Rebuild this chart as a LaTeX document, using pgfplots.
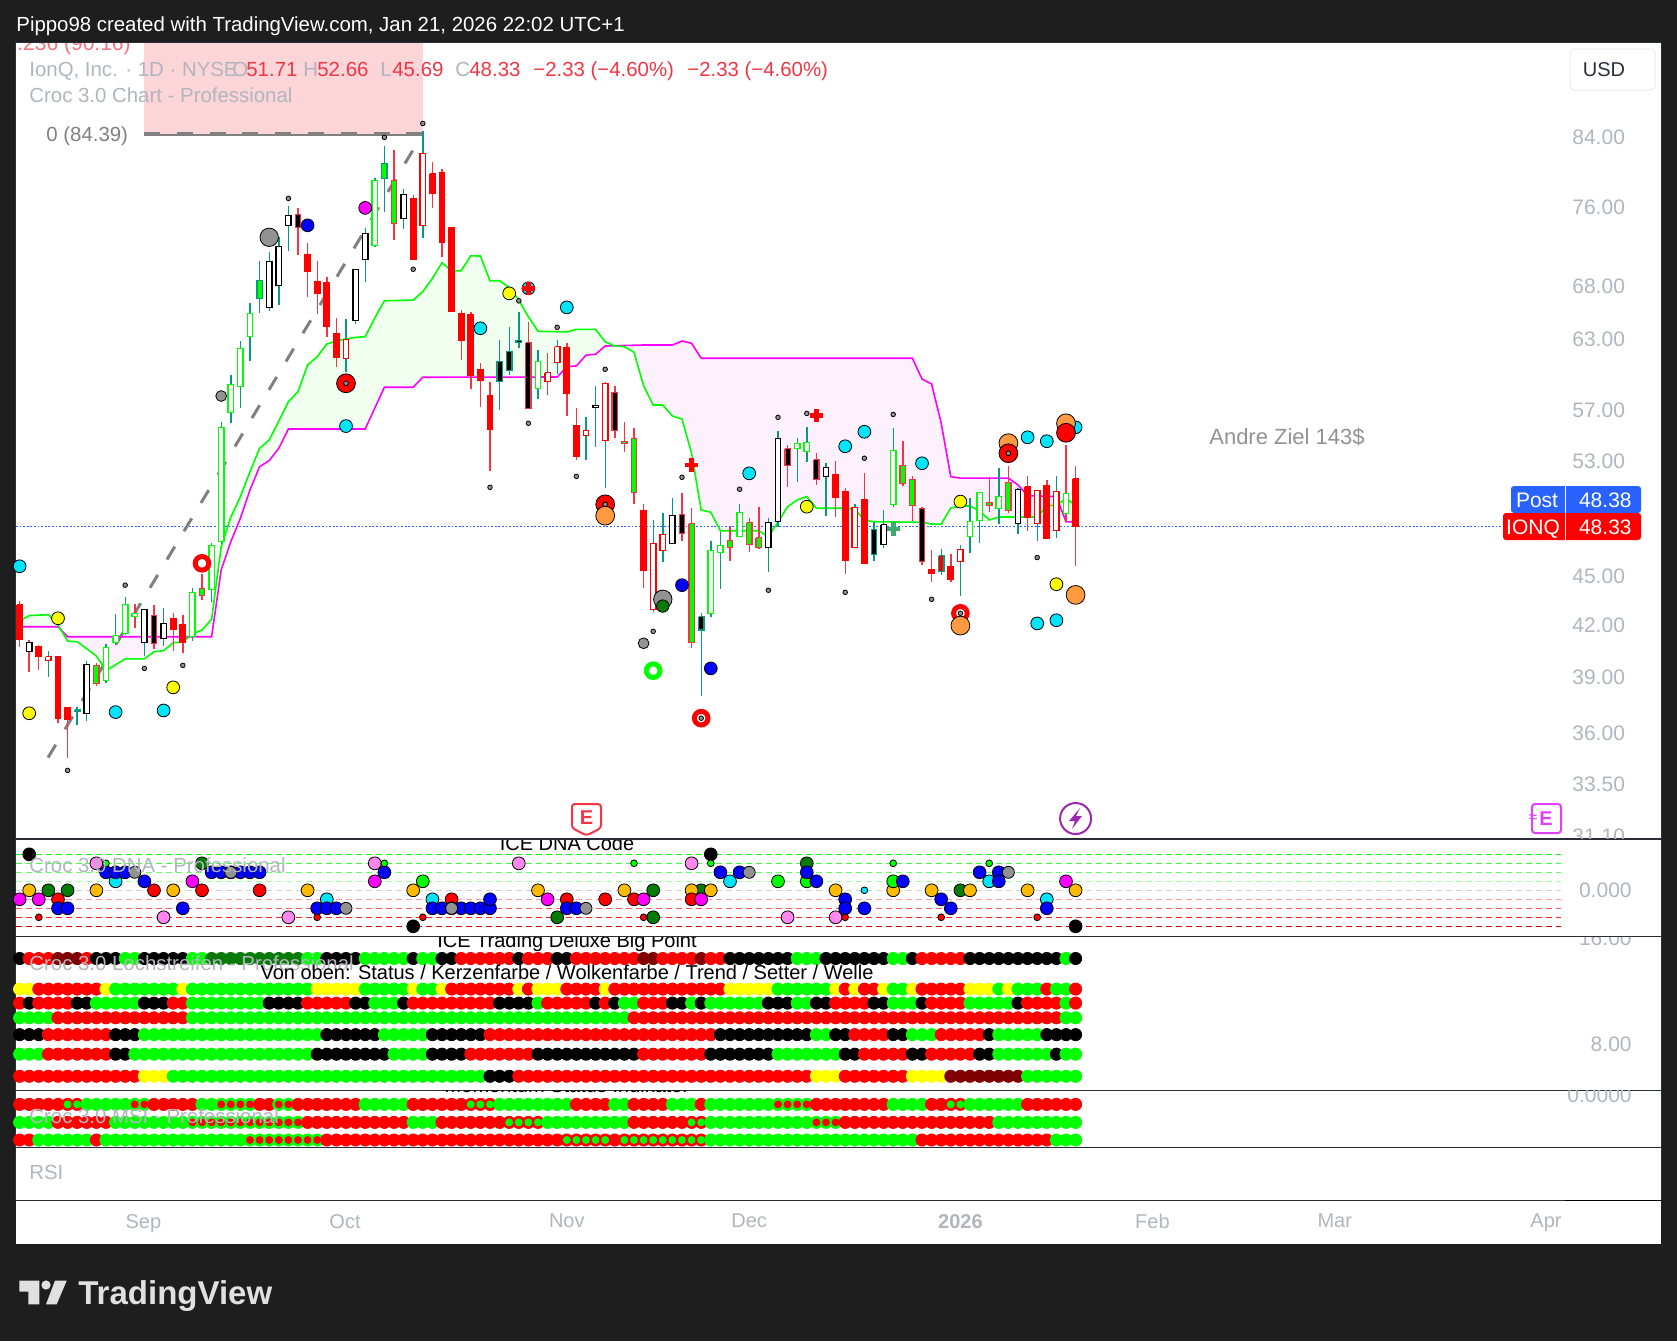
\documentclass[border=0pt]{standalone}
\usepackage{fontspec}
\setmainfont{Liberation Sans}
\usepackage{pgfplots}
\usepackage{pgfplotstable}
\pgfplotsset{compat=1.18}

\definecolor{tvbg}{HTML}{1E1E1E}
\definecolor{rd}{HTML}{FF0000}
\definecolor{lm}{HTML}{00FF00}
\definecolor{wd}{HTML}{F23645}
\definecolor{wu}{HTML}{089981}
\definecolor{mg}{HTML}{FF00FF}
\definecolor{cy}{HTML}{00E5FF}
\definecolor{yl}{HTML}{FFFF00}
\definecolor{org}{HTML}{FF9A40}
\definecolor{gld}{HTML}{FFBB00}
\definecolor{dgr}{HTML}{087A08}
\definecolor{mar}{HTML}{800000}
\definecolor{pnk}{HTML}{FF88EE}
\definecolor{gy}{HTML}{929292}
\definecolor{tick}{HTML}{B2B5BE}
\definecolor{line}{HTML}{2A2E39}
\definecolor{tvblue}{HTML}{2962FF}
\definecolor{cloudg}{HTML}{F0FFF0}
\definecolor{cloudm}{HTML}{FDF1FD}
\definecolor{band}{HTML}{FCD5D8}
\definecolor{fib}{HTML}{808080}
\definecolor{seag}{HTML}{3CAA6E}
\definecolor{purp}{HTML}{9C27B0}
\definecolor{mgl}{HTML}{E040FB}
\definecolor{logo}{HTML}{E0E0E0}

% candle bodies
\tikzset{
  cR/.style={fill=rd,draw=rd},
  cG/.style={fill=lm,draw=wd},
  cGt/.style={fill=lm,draw=wu},
  cH/.style={fill=white,draw=lm},
  cW/.style={fill=white,draw=black},
  cN/.style={fill=white,draw=rd},
  cB/.style={fill=black,draw=wd},
  cBt/.style={fill=black,draw=wu},
  cRt/.style={fill=rd,draw=wu},
}
% i, high, body top, body bottom, low, body style, wick colour
\newcommand{\candle}[7]{%
  \pgfmathsetmacro\cxl{#1-0.28}\pgfmathsetmacro\cxr{#1+0.28}%
  \addplot[#7,line width=0.7pt] coordinates {(#1,#2)(#1,#5)};
  \addplot[#6,line width=0.65pt,line join=miter] coordinates {(\cxl,#3)(\cxr,#3)(\cxr,#4)(\cxl,#4)(\cxl,#3)};
}
\newcommand{\lab}[5][base west]{\node[anchor=#1,inner sep=0pt,text=#2,font=\fontsize{#3}{#3}\selectfont] at (#4) {#5};}

\pgfplotsset{
  panel/.style={scale only axis,width=822.5pt,xmin=-0.375,xmax=170.98,anchor=north west,
    axis background/.style={fill=white},xtick=\empty,ytick=\empty,
    axis line style={draw=line,line width=0.5pt},major tick length=0pt,minor tick length=0pt},
  dots/.style={only marks,mark=*,mark options={draw=none,fill=#1}},
  strip/.style={scatter,only marks,scatter src=explicit symbolic,mark size=3.05pt,
    scatter/classes={R={mark=*,rd},G={mark=*,lm},K={mark=*,black},Y={mark=*,yl},
      D={mark=*,mar},N={mark=*,dgr},a={mark=*,rd},b={mark=*,lm}}},
  strip small/.style={scatter,only marks,scatter src=explicit symbolic,mark size=1.75pt,
    scatter/classes={R={mark=none},G={mark=none},K={mark=none},Y={mark=none},
      D={mark=none},N={mark=none},a={mark=*,lm},b={mark=*,rd}}},
}

% strip states per day: l0..l6 Lochstreifen rows, m0..m2 MSI rows
\pgfplotstableread{
i l0 l1 l2 l3 l4 l5 l6 m0 m1 m2
0 K Y R G K G R R G R
1 R Y K G K G R R G R
2 R R R G K G R R G G
3 R R R G R R R R G G
4 D R R R R R R R R G
5 D R R R R R R a R G
6 D R K R R R R a R G
7 R R K R R R R G R G
8 K R G R R R R G R R
9 K Y G R R R R G R G
10 K G G R K K R G G G
11 G G G R K K R G G G
12 G G G R K G R b G G
13 K G K R G G Y b G G
14 K G K R G G Y R G G
15 K G K R G G Y R G G
16 K G R R G G G R G G
17 K Y R R G G G R G G
18 G G G G G G G R b G
19 G G G G G G G G b G
20 N G G G G G G G b G
21 N G G G G G G b b G
22 N G G G G G G b b G
23 N G G G G G G b b G
24 N G G G G G G b b b
25 N G G G G G G R b b
26 N G K G G G G R b b
27 N G K G G G G b b b
28 N G K G G G G b b b
29 N G K G G G G R b b
30 G G R G G G G R R b
31 G Y R G G K G R R b
32 K Y R G K K G R R R
33 K Y R G K K G R R R
34 K Y R G K K G R R R
35 K Y K G K K G R R R
36 G G K G K K G G R R
37 G G G G K K G G R R
38 G G G G G K G G R R
39 G G G G G G G G R R
40 G G K G G G G G R R
41 K Y R G G G G R G R
42 G G R G G G G R G R
43 G G R G K K G R G R
44 K Y R G K K G R R R
45 K R R G K K G R R R
46 R R R G K K G R R R
47 R R R G K R G a R R
48 R R R G K R G a R R
49 R R R G R R K a R R
50 R R K G R R K G R R
51 R R K G R R K G a R
52 K Y K G R R R G a R
53 R R K G R R R G a R
54 R Y G G R K R G a R
55 R Y R G R K R G G R
56 K Y R G R K R G G R
57 K R R G R K R G G a
58 R R R G R K R R G a
59 R R R G R K R R G a
60 R R K G R K R R G a
61 R Y R G R K R R G a
62 R R K G R K R G G R
63 R R G G R K R G G a
64 R R G R R K R R R a
65 D R R R R R R R R a
66 D R R R R R R R R a
67 R R R R R R R R R a
68 R R K R R R R G R a
69 R R K R R R R G R a
70 R R G R R R R G a a
71 D R K R R R R R a a
72 R R G R R K R G G G
73 R R G R K K R G G G
74 K Y G R K K R G G G
75 K Y G R K K R G G G
76 K Y G R K K R G G G
77 K Y G R K K R G G G
78 K Y K R K K R G G G
79 K G K R K G R b G G
80 K G K R K G R b G G
81 G G G R K G R b G G
82 G G G R K G R b G G
83 G G K R G G Y R b G
84 K G K R G G Y R b G
85 K Y R R K G Y R b G
86 K R R R K K R R R G
87 K Y R R R K R R R G
88 K R R R R R R R R G
89 K R K R R R R R R G
90 K Y K R R R R R R G
91 G G G R K R R G R G
92 G G G R K R R G R G
93 K Y G R G K Y G R G
94 R R K R G K Y G R R
95 R R R R G R Y R R R
96 R R R R R R Y R R R
97 R R R R R R D a R R
98 R R R R R R D a R R
99 K Y G R R R D G R R
100 K Y G R R K D G R R
101 K Y G R K K D G R R
102 K G G R G G D G G R
103 K Y G R G G D G G R
104 K G K R G G D G G R
105 K G R R G G G R G R
106 K G R R G G G R G R
107 K R R R K G G R G R
108 K G R R K K G R G G
109 G G G G K G G R G G
110 K R R G K G G R G G
}\rows

\begin{document}
\begin{tikzpicture}[x=0.5pt,y=-0.5pt]
\fill[tvbg] (0,0) rectangle (1677,1341);
\fill[white] (16,43) rectangle (1661,1244);

% ---- price panel
\begin{axis}[panel,at={(8pt,-21.5pt)},height=398pt,
  ymode=log,ymin=31,ymax=96,yminorticks=false,
  ytick={84,76,68,63,57,53,45,42,39,36,33.5,31.1},
  yticklabels={84.00,76.00,68.00,63.00,57.00,53.00,45.00,42.00,39.00,36.00,33.50,31.10},
  yticklabel pos=right,
  yticklabel style={anchor=east,xshift=-14.5pt,text=tick,font=\fontsize{10.5}{10.5}\selectfont},
]
% fib band
\addplot[fill=band,draw=none] coordinates {(12.96,84.39)(42,84.39)(42,96)(12.96,96)};
% cloud areas
\addplot[fill=cloudg,draw=none] coordinates {(0,42.25)(1,42.57)(3,42.63)(4.2,41.78)(0,41.9)};
\addplot[fill=cloudm,draw=none] coordinates {(4.2,41.78)(5,41.31)(17.65,41.31)(17,41.00)(16,40.96)(15,40.50)(14,40.44)(13,40.03)(11,40.03)(9,39.37)(8,40.20)(6,41.02)(5,41.06)};
\addplot[fill=cloudg,draw=none] coordinates {(17.65,41.31)(18,41.48)(19,41.71)(20,42.35)(21,46.95)(22,48.95)(23,50.41)(24,52.22)(25,53.99)(26,54.63)(27,56.12)(28,57.68)(29,58.51)(30,60.77)(31,61.49)(32,62.60)(33,62.90)(34,63.05)(35,63.20)(36,63.26)(37,64.96)(38,66.57)(41,66.64)(42,67.44)(43,68.72)(44,70.27)(45,69.48)(46,69.48)(47,70.97)(48,70.94)(49,68.49)(50,68.49)(51,67.86)(52,66.64)(53,65.08)(54,63.75)(57,63.69)(58,63.93)(60,63.93)(61,62.81)(62,62.45)(61,62.43)(60,61.71)(59,61.62)(58,60.69)(57,60.62)(56,59.74)(42,59.72)(41,58.88)(38,58.88)(36,55.49)(28,55.49)(27,53.99)(26,53.05)(25,52.60)(24,50.89)(23,48.88)(22,47.28)(21,45.42)(20,41.31)};
\addplot[fill=cloudm,draw=none] coordinates {(62,62.45)(65,62.52)(68,62.52)(69,62.87)(70,62.67)(71,61.35)(93,61.35)(94,59.57)(95,59.15)(96,55.96)(97,51.85)(98,51.75)(103,51.75)(104,51.25)(105,50.48)(108,50.41)(108.27,49.93)(108,49.81)(107,49.74)(106,48.97)(102,48.97)(101,48.76)(100,49.41)(99,49.74)(98,49.74)(97,49.60)(96,48.48)(95,48.48)(94,48.60)(89,48.64)(88,48.76)(87,49.51)(86,49.58)(83,49.58)(82,50.41)(81,50.17)(80,49.69)(79,48.62)(78,47.62)(77,48.02)(73,48.02)(72,49.30)(71,49.46)(70,53.61)(69,56.28)(68,56.52)(67,57.41)(66,57.41)(65,59.01)(64,61.88)(63,62.37)};
\addplot[fill=cloudg,draw=none] coordinates {(108.27,49.93)(109,50.26)(110,49.81)(110,48.64)(109,48.64)};
% last price
\addplot[tvblue,line width=0.5pt,dash pattern=on 0.9pt off 0.9pt] coordinates {(-0.375,48.33)(154.5,48.33)};
% fib zero line and trend line
\addplot[fib,line width=1pt] coordinates {(12.96,84.2)(42,84.2)};
\addplot[fib,line width=1.5pt,dash pattern=on 8pt off 8.4pt] coordinates {(12.96,84.39)(42,84.39)};
\addplot[fib,line width=1.5pt,dash pattern=on 7.5pt off 9pt] coordinates {(2.96,34.8)(42,84.39)};
% cloud lines
\addplot[mg,line width=0.8pt] coordinates {(0,41.90)(4,41.90)(5,41.31)(20,41.31)(21,45.42)(22,47.28)(23,48.88)(24,50.89)(25,52.60)(26,53.05)(27,53.99)(28,55.49)(36,55.49)(38,58.88)(41,58.88)(42,59.72)(56,59.74)(57,60.62)(58,60.69)(59,61.62)(60,61.71)(61,62.43)(65,62.52)(68,62.52)(69,62.87)(70,62.67)(71,61.35)(93,61.35)(94,59.57)(95,59.15)(96,55.96)(97,51.85)(98,51.75)(103,51.75)(104,51.25)(105,50.48)(108,50.41)(109,48.64)(110,48.64)};
\addplot[lm,line width=0.8pt] coordinates {(0,42.25)(1,42.57)(3,42.63)(4,42.01)(5,41.06)(6,41.02)(8,40.20)(9,39.37)(11,40.03)(13,40.03)(14,40.44)(15,40.50)(16,40.96)(17,41.00)(18,41.48)(19,41.71)(20,42.35)(21,46.95)(22,48.95)(23,50.41)(24,52.22)(25,53.99)(26,54.63)(27,56.12)(28,57.68)(29,58.51)(30,60.77)(31,61.49)(32,62.60)(33,62.90)(34,63.05)(35,63.20)(36,63.26)(37,64.96)(38,66.57)(41,66.64)(42,67.44)(43,68.72)(44,70.27)(45,69.48)(46,69.48)(47,70.97)(48,70.94)(49,68.49)(50,68.49)(51,67.86)(52,66.64)(53,65.08)(54,63.75)(57,63.69)(58,63.93)(60,63.93)(61,62.81)(62,62.43)(63,62.37)(64,61.88)(65,59.01)(66,57.41)(67,57.41)(68,56.52)(69,56.28)(70,53.61)(71,49.46)(72,49.30)(73,48.02)(77,48.02)(78,47.62)(79,48.62)(80,49.69)(81,50.17)(82,50.41)(83,49.58)(86,49.58)(87,49.51)(88,48.76)(89,48.64)(94,48.60)(95,48.48)(96,48.48)(97,49.60)(98,49.74)(99,49.74)(100,49.41)(101,48.76)(102,48.97)(106,48.97)(107,49.74)(108,49.81)(109,50.26)(110,49.81)};
% candles
\candle{0}{43.47}{43.22}{41.16}{40.73}{cR}{wd}
\candle{1}{41.12}{40.99}{40.47}{39.31}{cW}{wd}
\candle{2}{40.83}{40.76}{40.16}{39.41}{cR}{wd}
\candle{3}{40.48}{40.16}{39.93}{39.04}{cN}{wu}
\candle{4}{40.21}{40.18}{36.78}{36.57}{cR}{wd}
\candle{5}{37.39}{37.37}{36.74}{34.79}{cR}{wd}
\candle{6}{37.41}{37.23}{37.14}{36.45}{cBt}{wu}
\candle{7}{39.91}{39.73}{37.06}{36.67}{cW}{wu}
\candle{8}{39.78}{39.67}{38.67}{38.54}{cG}{wd}
\candle{9}{40.87}{40.70}{38.83}{38.70}{cH}{wu}
\candle{10}{42.67}{41.37}{40.96}{40.83}{cH}{wu}
\candle{11}{43.69}{43.26}{41.51}{41.41}{cH}{wu}
\candle{12}{43.28}{42.71}{42.51}{41.85}{cH}{wd}
\candle{13}{42.95}{42.95}{40.99}{40.20}{cW}{wu}
\candle{14}{43.22}{42.59}{40.93}{40.60}{cB}{wd}
\candle{15}{43.03}{42.10}{41.20}{40.77}{cW}{wu}
\candle{16}{42.74}{42.41}{41.73}{40.50}{cR}{wd}
\candle{17}{42.61}{42.05}{40.96}{40.39}{cR}{wd}
\candle{18}{44.26}{44.01}{41.31}{41.08}{cH}{wu}
\candle{19}{45.16}{44.26}{43.80}{43.53}{cG}{wd}
\candle{20}{47.18}{47.04}{44.19}{43.42}{cH}{wu}
\candle{21}{56.07}{55.62}{47.31}{47.13}{cH}{wu}
\candle{22}{59.91}{59.13}{56.82}{55.99}{cH}{wu}
\candle{23}{62.87}{62.23}{58.96}{57.19}{cH}{wu}
\candle{24}{66.33}{65.39}{63.29}{61.14}{cH}{wu}
\candle{25}{70.44}{68.53}{66.80}{65.45}{cGt}{wu}
\candle{26}{71.32}{70.41}{65.95}{65.63}{cW}{wu}
\candle{27}{72.91}{71.93}{68.01}{66.17}{cW}{wu}
\candle{28}{76.16}{75.16}{74.10}{71.48}{cW}{wu}
\candle{29}{75.95}{75.26}{73.89}{71.04}{cB}{wd}
\candle{30}{72.23}{71.11}{69.38}{66.96}{cR}{wd}
\candle{31}{70.44}{68.43}{67.24}{65.33}{cR}{wd}
\candle{32}{68.83}{68.34}{64.17}{63.26}{cR}{wd}
\candle{33}{64.94}{63.57}{61.40}{60.62}{cR}{wd}
\candle{34}{64.87}{63.02}{61.31}{60.14}{cN}{wu}
\candle{35}{69.62}{69.62}{64.72}{64.41}{cW}{wu}
\candle{36}{73.79}{73.27}{70.57}{68.40}{cW}{wu}
\candle{37}{79.21}{78.99}{71.99}{71.89}{cH}{wu}
\candle{38}{82.93}{80.92}{79.21}{75.55}{cGt}{wu}
\candle{39}{82.46}{78.99}{74.31}{72.57}{cG}{wd}
\candle{40}{78.02}{77.44}{74.84}{73.71}{cW}{wu}
\candle{41}{77.36}{77.00}{70.57}{70.57}{cR}{wd}
\candle{42}{84.72}{82.07}{74.06}{72.78}{cN}{wu}
\candle{43}{81.10}{79.77}{77.50}{75.91}{cR}{wd}
\candle{44}{80.23}{79.88}{72.39}{70.81}{cR}{wd}
\candle{45}{73.89}{73.89}{65.54}{65.54}{cR}{wd}
\candle{46}{65.70}{65.39}{62.90}{61.20}{cR}{wd}
\candle{47}{65.51}{65.30}{59.89}{58.76}{cR}{wd}
\candle{48}{60.91}{60.40}{59.43}{57.27}{cR}{wd}
\candle{49}{59.30}{58.21}{55.43}{52.28}{cR}{wd}
\candle{50}{62.96}{61.09}{59.38}{57.01}{cBt}{wu}
\candle{51}{64.14}{61.97}{60.31}{59.91}{cBt}{wu}
\candle{52}{65.51}{62.93}{62.76}{62.28}{cBt}{wu}
\candle{53}{64.60}{62.73}{57.15}{57.15}{cB}{wd}
\candle{54}{62.08}{61.09}{58.79}{57.90}{cH}{wu}
\candle{55}{61.79}{60.11}{59.38}{58.23}{cN}{wd}
\candle{56}{62.96}{62.37}{61.00}{60.00}{cN}{wu}
\candle{57}{62.67}{62.31}{58.37}{56.55}{cR}{wd}
\candle{58}{57.17}{55.78}{53.35}{53.10}{cR}{wd}
\candle{59}{56.44}{55.39}{55.00}{53.10}{cN}{wu}
\candle{60}{58.98}{57.39}{57.23}{54.11}{cW}{wu}
\candle{61}{59.30}{59.21}{54.58}{51.05}{cN}{wu}
\candle{62}{58.98}{58.46}{55.39}{54.79}{cB}{wd}
\candle{63}{56.04}{54.53}{54.38}{53.73}{cG}{wd}
\candle{64}{55.54}{54.76}{50.72}{49.88}{cG}{wd}
\candle{65}{49.86}{49.44}{45.37}{44.29}{cR}{wd}
\candle{66}{48.76}{47.18}{42.95}{42.81}{cN}{wu}
\candle{67}{49.23}{47.78}{46.71}{45.96}{cN}{wu}
\candle{68}{50.29}{49.09}{47.18}{47.18}{cW}{wu}
\candle{69}{50.65}{49.16}{47.85}{47.35}{cB}{wd}
\candle{70}{49.58}{48.50}{40.99}{40.67}{cG}{wd}
\candle{71}{42.71}{42.51}{41.71}{38.00}{cBt}{wu}
\candle{72}{47.33}{46.71}{42.71}{42.51}{cH}{wu}
\candle{73}{47.93}{47.04}{46.58}{44.21}{cH}{wu}
\candle{74}{48.30}{47.35}{46.91}{46.02}{cG}{wd}
\candle{75}{49.86}{49.30}{47.64}{47.64}{cH}{wu}
\candle{76}{48.88}{48.57}{47.11}{46.60}{cG}{wd}
\candle{77}{49.65}{47.55}{46.88}{46.80}{cG}{wd}
\candle{78}{48.88}{48.60}{46.91}{45.29}{cW}{wu}
\candle{79}{55.33}{54.76}{48.67}{48.30}{cW}{wu}
\candle{80}{54.24}{53.96}{52.70}{51.12}{cB}{wd}
\candle{81}{54.76}{54.37}{53.96}{51.49}{cH}{wu}
\candle{82}{55.62}{54.45}{53.76}{52.97}{cH}{wu}
\candle{83}{53.61}{53.12}{51.66}{51.25}{cB}{wd}
\candle{84}{52.85}{52.55}{51.88}{49.04}{cW}{wu}
\candle{85}{53.03}{52.03}{50.36}{48.99}{cR}{wd}
\candle{86}{51.01}{50.80}{46.05}{45.16}{cR}{wd}
\candle{87}{49.88}{49.65}{46.91}{46.91}{cN}{wu}
\candle{88}{52.10}{50.22}{45.85}{45.79}{cR}{wd}
\candle{89}{48.64}{48.09}{46.44}{46.02}{cBt}{wu}
\candle{90}{49.46}{48.43}{47.11}{46.88}{cW}{wu}
\candle{91}{55.54}{53.84}{49.83}{49.69}{cH}{wu}
\candle{92}{54.55}{52.70}{51.34}{51.19}{cG}{wd}
\candle{93}{51.90}{51.66}{49.79}{48.69}{cG}{wd}
\candle{94}{49.69}{49.58}{45.99}{45.76}{cB}{wd}
\candle{95}{46.73}{45.46}{45.18}{44.67}{cR}{wd}
\candle{96}{46.80}{46.35}{45.34}{45.10}{cRt}{wu}
\candle{97}{46.46}{45.66}{44.82}{44.67}{cR}{wd}
\candle{98}{47.06}{46.78}{45.96}{43.78}{cN}{wu}
\candle{99}{50.29}{48.67}{47.64}{46.55}{cH}{wu}
\candle{100}{50.72}{50.72}{48.74}{47.22}{cH}{wu}
\candle{101}{51.81}{50.00}{49.79}{49.34}{cG}{wd}
\candle{102}{52.47}{50.43}{49.58}{48.48}{cH}{wu}
\candle{103}{52.65}{51.44}{49.44}{49.25}{cG}{wd}
\candle{104}{51.01}{50.94}{48.53}{47.82}{cW}{wu}
\candle{105}{51.88}{51.12}{48.95}{48.02}{cR}{wd}
\candle{106}{50.87}{50.87}{48.53}{47.35}{cN}{wu}
\candle{107}{51.61}{51.22}{47.51}{47.51}{cR}{wd}
\candle{108}{51.88}{50.80}{48.05}{47.55}{cN}{wu}
\candle{109}{54.24}{50.65}{49.23}{48.60}{cH}{wd}
\candle{110}{52.66}{51.71}{48.33}{45.69}{cR}{wd}
% signal dots
\addplot[dots=cy,mark size=3.2pt] coordinates {(0,45.66)(10,37.12)(15,37.21)(34,55.72)(48,64.02)(53,67.76)(57,65.95)(76,52.10)(86,54.14)(88,55.27)(94,52.85)(105,54.84)(107,54.53)(110,55.62)(106,42.10)(108,42.29)};
\addplot[dots=yl,mark size=3.2pt] coordinates {(4,42.41)(1,37.06)(16,38.45)(51,67.28)(82,49.69)(98,50.05)(108,44.51)};
\addplot[dots=gy,mark size=4.6pt] coordinates {(26,72.85)(67,43.57)};
\addplot[dots=gy,mark size=2.7pt] coordinates {(21,58.15)(65,40.93)};
\addplot[dots=dgr,mark size=3.1pt] coordinates {(67,43.15)};
\addplot[dots=mg,mark size=3.2pt] coordinates {(36,75.96)};
\addplot[dots=blue,mark size=3.2pt] coordinates {(30,74.10)(69,44.45)(72,39.50)};
\addplot[dots=org,mark size=4.7pt] coordinates {(103,54.38)(109,55.94)};
\addplot[dots=rd,mark size=4.7pt] coordinates {(34,59.21)(61,49.86)(103,53.61)(109,55.19)};
\addplot[only marks,mark=*,mark size=3.4pt,mark options={draw=rd,fill=white,line width=2.5pt}] coordinates {(19,45.85)(71,36.80)(98,42.71)};
\addplot[only marks,mark=*,mark size=3.4pt,mark options={draw=lm,fill=white,line width=2.5pt}] coordinates {(66,39.37)};
\addplot[dots=org,mark size=4.7pt] coordinates {(61,49.06)(98,41.97)(110,43.84)};
\addplot[only marks,mark=+,mark size=3.3pt,mark options={draw=rd,line width=2.4pt}] coordinates {(53,67.76)(70,52.72)(83,56.57)};
\addplot[only marks,mark=+,mark size=3.3pt,mark options={draw=seag,line width=2.4pt}] coordinates {(91,48.14)};
\addplot[dots=gy,mark size=1.15pt] coordinates {(11,44.45)(13,39.50)(17,39.67)(5,34.17)(49,51.08)(42,85.63)(38,83.96)(28,77.00)(41,69.62)(52,66.57)(56,64.11)(53,55.94)(61,60.40)(58,51.88)(66,41.63)(69,51.81)(75,50.94)(79,56.41)(82,56.73)(78,44.13)(88,53.23)(86,44.00)(91,56.65)(95,43.57)(106,46.23)(34,59.21)(61,49.86)(71,36.80)(98,42.71)(103,53.61)};
\end{axis}

% ---- MSI panel
\begin{axis}[panel,at={(8pt,-545pt)},height=28.5pt,ymin=0.61,ymax=3.78]
\addplot[strip] table[x=i,y expr=2.98,meta=m0] {\rows};
\addplot[strip small] table[x=i,y expr=2.98,meta=m0] {\rows};
\addplot[strip] table[x=i,y expr=1.98,meta=m1] {\rows};
\addplot[strip small] table[x=i,y expr=1.98,meta=m1] {\rows};
\addplot[strip] table[x=i,y expr=1,meta=m2] {\rows};
\addplot[strip small] table[x=i,y expr=1,meta=m2] {\rows};
\end{axis}

% ---- Lochstreifen panel
\begin{axis}[panel,at={(8pt,-468pt)},height=77pt,ymin=4.64,ymax=16.07]
\addplot[strip] table[x=i,y expr=14.4,meta=l0] {\rows};
\addplot[strip] table[x=i,y expr=12.13,meta=l1] {\rows};
\addplot[strip] table[x=i,y expr=11.09,meta=l2] {\rows};
\addplot[strip] table[x=i,y expr=10,meta=l3] {\rows};
\addplot[strip] table[x=i,y expr=8.75,meta=l4] {\rows};
\addplot[strip] table[x=i,y expr=7.3,meta=l5] {\rows};
\addplot[strip] table[x=i,y expr=5.66,meta=l6] {\rows};
\end{axis}

% ---- DNA panel
\begin{axis}[panel,at={(8pt,-419.5pt)},height=48.5pt,ymin=-5.08,ymax=5.7]
\addplot[dots=pnk,mark size=3.2pt] coordinates {(8,3)(15,-3)(28,-3)(37,3)(52,3)(70,3)(80,-3)(85,-3)};
\addplot[dots=dgr,mark size=3.2pt] coordinates {(3,0)(5,0)(19,3)(56,-3)(66,0)(66,-3)(71,0)(82,3)(98,0)};
\addplot[dots=gld,mark size=3.2pt] coordinates {(1,0)(8,0)(16,0)(30,0)(41,0)(54,0)(63,0)(70,0)(72,0)(85,0)(91,0)(95,0)(99,0)(105,0)(110,0)};
\addplot[dots=lm,mark size=3.2pt] coordinates {(42,1)(79,1)(82,1)(91,1)};
\addplot[dots=cy,mark size=3.2pt] coordinates {(10,1)(32,-1)(43,-1)(74,1)(101,1)(107,-1)};
\addplot[dots=rd,mark size=3.2pt] coordinates {(4,-1)(14,0)(19,0)(25,0)(45,-1)(57,-1)(61,-1)(64,-1)(70,-1)};
\addplot[dots=mg,mark size=3.2pt] coordinates {(0,-1)(2,-1)(18,1)(37,1)(55,-1)(65,-1)(71,-1)(109,1)};
\addplot[dots=blue,mark size=3.2pt] coordinates {(4,-2)(5,-2)(9,2)(10,2)(11,2)(13,1)(17,-2)(20,2)(21,2)(22,2)(23,2)(24,2)(25,2)(31,-2)(32,-2)(33,-2)(38,2)(43,-2)(44,-2)(45,-2)(46,-2)(47,-2)(48,-2)(49,-2)(49,-1)(57,-2)(58,-2)(73,2)(75,2)(82,2)(83,1)(86,-1)(86,-2)(88,-2)(92,1)(96,-1)(97,-2)(100,2)(102,2)(102,1)(107,-2)};
\addplot[dots=gy,mark size=3pt] coordinates {(12,2)(22,2)(34,-2)(45,-2)(59,-2)(76,2)(103,2)};
\addplot[dots=black,mark size=3.2pt] coordinates {(1,4)(41,-4)(72,4)(110,-4)};
\addplot[dots=lm,mark size=1.7pt] coordinates {(9,3)(38,3)(64,3)(72,3)(91,3)(101,3)};
\addplot[dots=rd,mark size=1.7pt] coordinates {(2,-3)(31,-3)(42,-3)(65,-3)(86,-3)(96,-3)(106,-3)};
\addplot[dots=cy,mark size=1.7pt] coordinates {(88,0)};
% level lines
\addplot[lm,line width=0.5pt,dash pattern=on 3.2pt off 1.8pt] coordinates {(-0.375,4)(160.6,4)};
\addplot[lm!75,line width=0.5pt,dash pattern=on 3.2pt off 1.8pt] coordinates {(-0.375,3)(160.6,3)};
\addplot[lm!60,line width=0.5pt,dash pattern=on 3.2pt off 1.8pt] coordinates {(-0.375,2)(160.6,2)};
\addplot[lm!35,line width=0.5pt,dash pattern=on 3.2pt off 1.8pt] coordinates {(-0.375,1)(160.6,1)};
\addplot[gray!35,line width=0.5pt,dash pattern=on 3.2pt off 1.8pt] coordinates {(-0.375,0)(160.6,0)};
\addplot[rd!40,line width=0.5pt,dash pattern=on 3.2pt off 1.8pt] coordinates {(-0.375,-1)(160.6,-1)};
\addplot[rd!65,line width=0.5pt,dash pattern=on 3.2pt off 1.8pt] coordinates {(-0.375,-2)(160.6,-2)};
\addplot[rd!85,line width=0.5pt,dash pattern=on 3.2pt off 1.8pt] coordinates {(-0.375,-3)(160.6,-3)};
\addplot[rd!85!black,line width=0.5pt,dash pattern=on 3.2pt off 1.8pt] coordinates {(-0.375,-4)(160.6,-4)};
\end{axis}

% ---- RSI panel with the time scale
\begin{axis}[panel,at={(8pt,-573.5pt)},height=26.5pt,ymin=0,ymax=1,
  xtick={12.9,33.9,57,76,98,118,137,159},
  xticklabels={Sep,Oct,Nov,Dec,\textbf{2026},Feb,Mar,Apr},
  xticklabel style={text=tick,font=\fontsize{10}{10}\selectfont,yshift=-3.5pt},
]
\end{axis}
\draw[black,line width=0.5pt] (1565,1200) -- (1661,1200);

% ---- text
\lab{white}{10.2}{16,31}{Pippo98 created with TradingView.com, Jan 21, 2026 22:02 UTC+1}
\begin{scope}
\clip (16,43) rectangle (1661,839);
\lab{wd!70}{10.5}{17,50}{.236 (90.16)}
\end{scope}
\lab{tick}{10.2}{29,76}{IonQ, Inc. · 1D · NYSE}
\lab{tick}{10.2}{232,76}{O}\lab{wd}{10.2}{246,76}{51.71}
\lab{tick}{10.2}{303,76}{H}\lab{wd}{10.2}{317,76}{52.66}
\lab{tick}{10.2}{380,76}{L}\lab{wd}{10.2}{392,76}{45.69}
\lab{tick}{10.2}{455,76}{C}\lab{wd}{10.2}{469,76}{48.33}
\lab{wd}{10.2}{533,76}{−2.33 (−4.60\%)}
\lab{wd}{10.2}{687,76}{−2.33 (−4.60\%)}
\lab{tick}{10.2}{29,102}{Croc 3.0 Chart - Professional}
\lab{fib}{10.2}{46,141}{0 (84.39)}
\lab[base]{gy}{11}{1287,444}{Andre Ziel 143\$}
% USD button
\draw[black!8,line width=0.5pt,rounded corners=2pt,fill=white] (1570,49) rectangle (1655,90);
\lab[base]{line}{10}{1604,76}{USD}
% price tags
\fill[tvblue,rounded corners=1.5pt] (1511,486) rectangle (1641,513);
\fill[rd,rounded corners=1.5pt] (1503,513) rectangle (1641,540);
\draw[white,line width=0.5pt] (1565.5,486) -- (1565.5,540);
\lab[base]{white}{10.5}{1537,507}{Post}
\lab[base]{white}{10.5}{1533,534}{IONQ}
\lab[base east]{white}{10.5}{1632,507}{48.38}
\lab[base east]{white}{10.5}{1632,534}{48.33}
% event icons
\draw[wd,line width=1pt,fill=white,rounded corners=1.5pt] (572,804) -- (601,804) -- (601,828) -- (586.5,835.5) -- (572,828) -- cycle;
\lab[center]{wd}{10}{586.5,818}{\textbf{E}}
\draw[purp,line width=1pt] (1075.6,818.5) circle[radius=15.5];
\fill[purp] (1080,808) -- (1069,821) -- (1075,821) -- (1072,829) -- (1082,816) -- (1076,816) -- cycle;
\draw[mgl,line width=1pt,rounded corners=1.5pt] (1532,804) rectangle (1561,833);
\lab[center]{mgl}{10}{1546,818.5}{\textbf{E}}
\lab[center]{mgl}{8}{1533,819}{≈}
% panel titles
\begin{scope}
\clip (16,840) rectangle (1661,936);
\lab[center]{black}{10}{567,843}{ICE DNA Code}
\lab{tick}{10.2}{29,872}{Croc 3.0 DNA - Professional}
\lab[base east]{tick}{10.5}{1632,897}{0.000}
\end{scope}
\begin{scope}
\clip (16,937) rectangle (1661,1089);
\lab[center]{black}{10}{567,942}{ICE Trading Deluxe Big Point}
\lab{tick}{10.2}{29,970}{Croc 3.0 Lochstreifen - Professional}
\lab[center]{black}{10}{567,972}{Von oben: Status / Kerzenfarbe / Wolkenfarbe / Trend / Setter / Welle}
\lab[base east]{tick}{10.5}{1632,945}{16.00}
\lab[base east]{tick}{10.5}{1632,1051}{8.00}
\end{scope}
\begin{scope}
\clip (16,1090) rectangle (1661,1146);
\lab[center]{black}{10}{567,1085}{Momentum Status Indikator}
\lab{tick}{10.2}{29,1123}{Croc 3.0 MSI - Professional}
\lab[base east]{tick}{10.5}{1632,1102}{0.0000}
\end{scope}
\lab{tick}{10.2}{29,1179}{RSI}
% TradingView logo
\fill[logo] (19.3,1280.7) -- (39.3,1280.7) -- (39.3,1304.3) -- (28.3,1304.3) -- (28.3,1291.7) -- (19.3,1291.7) -- cycle;
\fill[logo] (46,1285) circle[radius=4.6];
\fill[logo] (55,1280.7) -- (66.7,1280.7) -- (56.7,1304.3) -- (46,1304.3) -- cycle;
\lab{logo}{16.5}{78,1304}{\textbf{TradingView}}
\end{tikzpicture}
\end{document}
